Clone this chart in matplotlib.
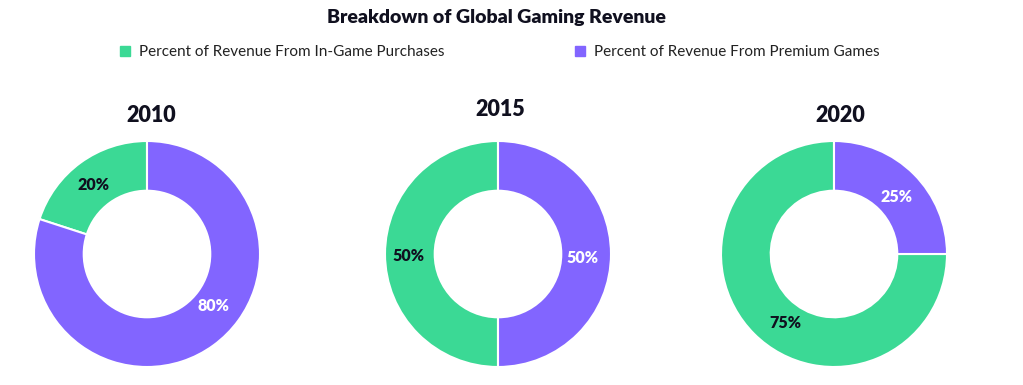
import numpy as np
import matplotlib.pyplot as plt
from matplotlib.patches import Rectangle

years = ["2010", "2015", "2020"]
in_game = [20, 50, 75]
premium = [80, 50, 25]
series_names = ["Percent of Revenue From In-Game Purchases",
                "Percent of Revenue From Premium Games"]

green = "#3bd995"
purple = "#8265ff"
dark = "#10101f"

plt.rcParams['font.family'] = ['Lato', 'DejaVu Sans']

W, H = 1023, 385
fig = plt.figure(figsize=(W / 100, H / 100), dpi=100)

# donut centres / year label positions in pixels
centres = [(147, 254), (498, 254), (834, 254)]
year_pos = [(151, 115), (500, 110), (840, 116)]
r = 113
# label placement (angle deg, distance) as in the reference
label_at = [[(128, 0.775), (322, 0.75)],
            [(181, 0.79), (357, 0.75)],
            [(235, 0.75), (42.5, 0.745)]]

for i, year in enumerate(years):
    cx, cy = centres[i]
    ax = fig.add_axes([(cx - r) / W, 1 - (cy + r) / H, 2 * r / W, 2 * r / H])
    vals = [in_game[i], premium[i]]
    wedges, texts = ax.pie(vals, colors=[green, purple], startangle=90,
                           counterclock=True, radius=1,
                           wedgeprops=dict(width=0.44, edgecolor="white", linewidth=1.5),
                           labels=[f"{v}%" for v in vals], labeldistance=0.78)
    for j, (t, c) in enumerate(zip(texts, [dark, "white"])):
        ang, dist = label_at[i][j]
        t.set_position((dist * np.cos(np.radians(ang)), dist * np.sin(np.radians(ang))))
        t.set_color(c)
        t.set_fontweight("heavy")
        t.set_fontsize(11.5)
        t.set_ha("center")
        t.set_va("center")
    ax.set_xlim(-1, 1)
    ax.set_ylim(-1, 1)
    ax.set_aspect("equal")
    ax.axis("off")
    fig.text(year_pos[i][0] / W, 1 - year_pos[i][1] / H, year, ha="center", va="center",
             fontsize=15.5, fontweight="heavy", color=dark)

fig.text(496 / W, 1 - 17 / H, "Breakdown of Global Gaming Revenue",
         ha="center", va="center", fontsize=14, fontweight="heavy", color=dark)

# legend
for x0, name, col in [(120, series_names[0], green), (575, series_names[1], purple)]:
    fig.patches.append(Rectangle((x0 / W, 1 - 56 / H), 10 / W, 10 / H,
                                 transform=fig.transFigure, color=col))
    fig.text((x0 + 19) / W, 1 - 51.5 / H, name, ha="left", va="center",
             fontsize=11, color="#222222")

fig.savefig("out.png", dpi=100, facecolor="white")
